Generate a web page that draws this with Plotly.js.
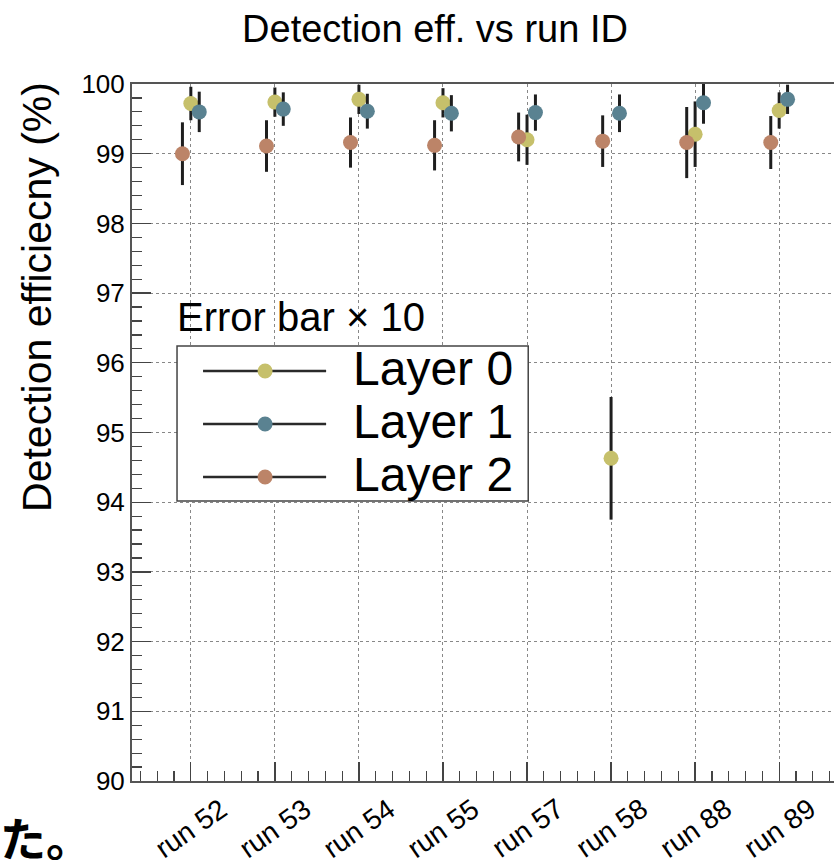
<!DOCTYPE html>
<html><head><meta charset="utf-8">
<script src="https://cdn.plot.ly/plotly-3.0.1.min.js"></script>
<style>html,body{margin:0;padding:0;overflow:hidden;background:#fff;width:834px;height:860px}#chart{width:850px;height:860px}</style>
</head><body><div id="chart"></div>
<script>
// ---- data ----
const runs = ['run 52','run 53','run 54','run 55','run 57','run 58','run 88','run 89'];
const seriesNames = ['Layer 0','Layer 1','Layer 2'];
const layer0 = [99.72, 99.74, 99.78, 99.73, 99.20, 94.63, 99.28, 99.62];
const layer0Err = [0.24, 0.21, 0.21, 0.21, 0.36, 0.88, 0.47, 0.26];
const layer1 = [99.60, 99.64, 99.61, 99.58, 99.59, 99.58, 99.73, 99.78];
const layer1Err = [0.29, 0.24, 0.25, 0.26, 0.26, 0.27, 0.30, 0.21];
const layer2 = [99.00, 99.11, 99.16, 99.12, 99.24, 99.18, 99.16, 99.16];
const layer2Err = [0.45, 0.37, 0.36, 0.36, 0.35, 0.37, 0.51, 0.38];
const yTickVals = [90,91,92,93,94,95,96,97,98,99,100];
const titleText = 'Detection eff. vs run ID';
const yTitleText = 'Detection efficiecny (%)';
const legendTitleText = 'Error bar \u00d7 10';
const cornerText = '\u305f\u3002';

// ---- style / layout ----
const FONT = 'Liberation Sans, Arial, Helvetica, sans-serif';
const colors = ['#c6c06b', '#5a8291', '#bc8468'];
const offsets = [0, 0.1, -0.1];
const FIG_W = 850, FIG_H = 860, ML = 132, MT = 84, PW = 705.6, PH = 697;
const px = v => (v - ML) / PW;
const py = v => (MT + PH - v) / PH;

const yData = [layer0, layer1, layer2];
const eData = [layer0Err, layer1Err, layer2Err];

const traces = yData.map((ys, k) => ({
  type: 'scatter', mode: 'markers', name: seriesNames[k], showlegend: false,
  x: runs.map((_, i) => i + offsets[k]),
  y: ys,
  error_y: {type: 'data', array: eData[k], visible: true, color: '#1e1e1e', thickness: 3, width: 0},
  marker: {size: 15, color: colors[k], line: {width: 0}}
}));

// manual legend (ROOT-style)
const rowY = [371, 424, 477];
const shapes = [{
  type: 'rect', xref: 'paper', yref: 'paper', layer: 'above',
  x0: px(177), x1: px(528), y0: py(501), y1: py(346),
  line: {color: '#444', width: 1.5}, fillcolor: '#ffffff'
}];
const annotations = [];
seriesNames.forEach((n, k) => {
  shapes.push({type: 'line', xref: 'paper', yref: 'paper', layer: 'above',
    x0: px(203), x1: px(326), y0: py(rowY[k]), y1: py(rowY[k]),
    line: {color: '#2a2a2a', width: 2.5}});
  shapes.push({type: 'circle', xref: 'paper', yref: 'paper', layer: 'above',
    xsizemode: 'pixel', ysizemode: 'pixel', xanchor: px(265), yanchor: py(rowY[k]),
    x0: -7.5, x1: 7.5, y0: -7.5, y1: 7.5, fillcolor: colors[k], line: {width: 0}});
  annotations.push({xref: 'paper', yref: 'paper', x: px(351), y: py(rowY[k] - 3),
    xanchor: 'left', yanchor: 'middle', showarrow: false, text: n,
    font: {family: FONT, size: 48, color: '#000'}});
});
annotations.push({xref: 'paper', yref: 'paper', x: px(175), y: py(317),
  xanchor: 'left', yanchor: 'middle', showarrow: false, text: legendTitleText,
  font: {family: FONT, size: 40, color: '#000'}});
annotations.push({xref: 'paper', yref: 'paper', x: px(37), y: py(297),
  xanchor: 'center', yanchor: 'middle', textangle: -90, showarrow: false, text: yTitleText,
  font: {family: FONT, size: 41, color: '#000'}});
annotations.push({xref: 'paper', yref: 'paper', x: px(-2), y: py(836),
  xanchor: 'left', yanchor: 'middle', showarrow: false, text: cornerText,
  font: {family: 'Noto Sans CJK JP, sans-serif', size: 46, color: '#000', weight: 700}});
// rotated category labels, centred under each category (ROOT style)
runs.forEach((r, i) => {
  annotations.push({xref: 'x', yref: 'paper', x: i, y: py(828),
    xanchor: 'center', yanchor: 'middle', textangle: -35, showarrow: false, text: r,
    font: {family: FONT, size: 28, color: '#000'}});
});

const axisCommon = {
  ticks: 'inside', ticklen: 19, tickwidth: 1.3, tickcolor: '#444',
  showline: true, linecolor: '#555', linewidth: 2, mirror: true,
  showgrid: true, gridcolor: '#888', gridwidth: 1, griddash: 'dot',
  zeroline: false, fixedrange: true
};

const layout = {
  width: FIG_W, height: FIG_H,
  margin: {l: ML, t: MT, r: FIG_W - ML - PW, b: FIG_H - MT - PH, pad: 0},
  paper_bgcolor: '#fff', plot_bgcolor: '#fff',
  showlegend: false,
  title: {text: titleText, font: {family: FONT, size: 38, color: '#000'},
    xref: 'container', yref: 'container', x: 435 / FIG_W, xanchor: 'center',
    y: 1 - 29 / FIG_H, yanchor: 'middle'},
  xaxis: Object.assign({}, axisCommon, {
    range: [-0.7, 7.7], tickmode: 'array',
    tickvals: runs.map((_, i) => i), ticktext: runs, showticklabels: false,
    minor: {tickmode: 'linear', tick0: 0, dtick: 0.2, ticks: 'inside', ticklen: 10,
      tickwidth: 1.2, tickcolor: '#444', showgrid: false}
  }),
  yaxis: Object.assign({}, axisCommon, {
    range: [90, 100], tickmode: 'array', tickvals: yTickVals,
    ticktext: yTickVals.map(String), ticklabelstandoff: 0,
    tickfont: {family: FONT, size: 26, color: '#000'},
    minor: {tickmode: 'linear', tick0: 90, dtick: 0.2, ticks: 'inside', ticklen: 10,
      tickwidth: 1.2, tickcolor: '#444', showgrid: false}
  }),
  shapes: shapes,
  annotations: annotations
};

Plotly.newPlot('chart', traces, layout, {displayModeBar: false, staticPlot: true});
</script>
</body></html>
